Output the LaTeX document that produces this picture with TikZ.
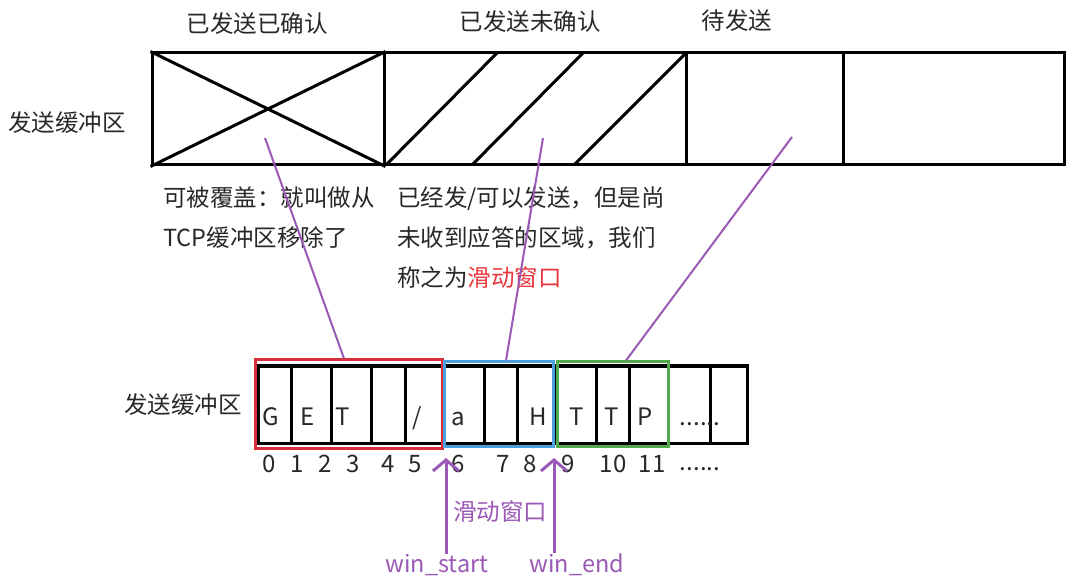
\documentclass[tikz,border=0pt]{standalone}
\usepackage{fontspec}
\setmainfont{Noto Sans CJK SC}
\usetikzlibrary{arrows.meta,calc}
\definecolor{pur}{RGB}{155,89,182}
\definecolor{rbox}{RGB}{214,48,58}
\definecolor{bbox}{RGB}{77,160,220}
\definecolor{gbox}{RGB}{84,168,78}
\definecolor{rtext}{RGB}{232,56,61}
\definecolor{txt}{RGB}{40,40,40}
\begin{document}
\begin{tikzpicture}[x=1pt,y=-1pt,
  cjk/.style={font=\fontsize{23.5}{28}\selectfont, text=txt, inner sep=0pt},
  lat/.style={font=\fontsize{24}{28}\selectfont, text=txt, inner sep=0pt},
  topcell/.style={draw, line width=3pt, minimum height=112pt, inner sep=0pt},
  cellbox/.style={draw, line width=3pt, minimum height=77pt, inner sep=0pt},
  markbox/.style={draw, line width=3pt, inner sep=0pt, fill=none},
  pline/.style={draw=pur, line width=2pt},
  parrow/.style={draw=pur, line width=3pt, -{Straight Barb[length=11pt,width=26pt]}},
]
\useasboundingbox[fill=white] (0,0) rectangle (1072,588);

% top buffer
\node[topcell, minimum width=232pt] (t1) at (268,109) {};
\node[topcell, minimum width=302pt] (t2) at (535,109) {};
\node[topcell, minimum width=157pt] (t3) at (764.5,109) {};
\node[topcell, minimum width=221pt] (t4) at (953.5,109) {};
\draw[line width=3pt] (t1.north west) -- (t1.south east);
\draw[line width=3pt] (t1.south west) -- (t1.north east);
\draw[line width=3pt] (386,165) -- (497,53);
\draw[line width=3pt] (472,165) -- (583,53);
\draw[line width=3pt] (574,165) -- (686,53);

\node[cjk] (l1) at (257,24) {已发送已确认};
\node[cjk] (l2) at (530,22) {已发送未确认};
\node[cjk] (l3) at (737,21) {待发送};
\node[cjk] (lbuf) at (67,123) {发送缓冲区};

% explanations
\node[cjk, anchor=base west] (e1a) at (163,207) {可被覆盖：就叫做从};
\node[cjk, anchor=base west] (e1b) at (163,247) {TCP缓冲区移除了};
\node[cjk, anchor=base west] (e2a) at (397,207) {已经发/可以发送，但是尚};
\node[cjk, anchor=base west] (e2b) at (397,247) {未收到应答的区域，我们};
\node[cjk, anchor=base west] (e2c) at (397,287) {称之为{\color{rtext}滑动窗口}};

% bottom buffer
\node[cjk] (lbuf2) at (183,405) {发送缓冲区};
\foreach \l/\r [count=\i from 0] in {258/291,291/331,331/371,371/405,405/444,444/484,484/517,517/555,555/596,596/629,629/668,668/710,710/747}
  \node[cellbox, minimum width={(\r-\l)*1pt}] (b\i) at ({(\l+\r)/2},404.5) {};

\node[markbox, draw=rbox, minimum width=187pt, minimum height=88pt] (redbox) at (348.5,404) {};
\node[markbox, draw=bbox, minimum width=109pt, minimum height=84pt] (bluebox) at (498.5,404) {};
\node[markbox, draw=gbox, minimum width=111pt, minimum height=84pt] (greenbox) at (612.5,404) {};

\node[lat, anchor=base] (c0) at (271,425) {G};
\node[lat, anchor=base] (c1) at (308,425) {E};
\node[lat, anchor=base] (c2) at (343,425) {T};
\node[lat, anchor=base] (c4) at (417,425) {/};
\node[lat, anchor=base] (c5) at (458,425) {a};
\node[lat, anchor=base] (c7) at (538,425) {H};
\node[lat, anchor=base] (c8) at (577,425) {T};
\node[lat, anchor=base] (c9) at (612,425) {T};
\node[lat, anchor=base] (c10) at (645,425) {P};
\node[lat, anchor=base] (cdots) at (700,425) {......};

\foreach \x/\t [count=\i from 0] in {269/0,297/1,325/2,353/3,388/4,415/5,458/6,503/7,530/8,568/9,613/10,652/11}
  \node[lat, anchor=base] (n\i) at (\x,472) {\t};
\node[lat, anchor=base] (ndots) at (700,470) {......};

% purple connectors
\coordinate (p1) at (265,138);
\coordinate (p2) at (543,138);
\coordinate (p3) at (792,137);
\draw[pline] (p1) -- ([xshift=-4.5pt]redbox.north);
\draw[pline] (p2) -- ([xshift=7.5pt]bluebox.north);
\draw[pline] (p3) -- ([xshift=13.5pt]greenbox.north);

% window pointers
\node[lat, anchor=base, text=pur, font=\fontsize{23.5}{28}\selectfont] (ws) at (437,572) {win\_start};
\node[lat, anchor=base, text=pur, font=\fontsize{23.5}{28}\selectfont] (we) at (577,572) {win\_end};
\node[cjk, text=pur] (sw) at (500,512) {滑动窗口};
\coordinate (wsTip) at (446,458);
\coordinate (weTip) at (554,458);
\draw[parrow] (wsTip |- ws.north) -- (wsTip);
\draw[parrow] (weTip |- we.north) -- (weTip);
\end{tikzpicture}
\end{document}
